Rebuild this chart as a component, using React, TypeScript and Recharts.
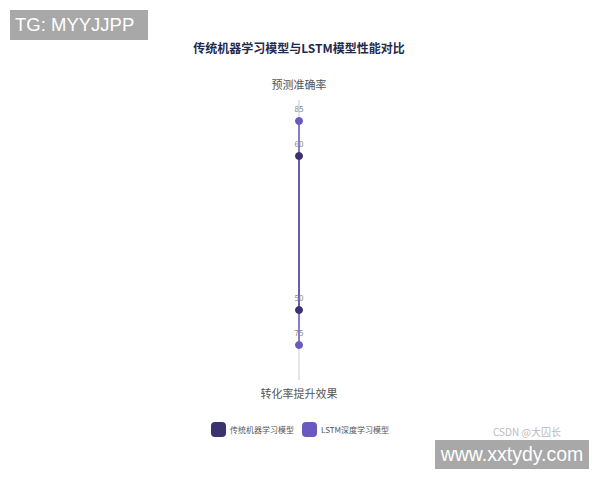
import React from 'react'
import { RadarChart, Radar, PolarGrid, PolarAngleAxis, PolarRadiusAxis, Legend } from 'recharts'

const indicators = ['预测准确率', '转化率提升效果']
const traditionalValues = [60, 50]
const lstmValues = [85, 75]
const seriesNames = ['传统机器学习模型', 'LSTM深度学习模型']
const seriesColors = ['#3b3270', '#6a5ac0']

const data = indicators.map((name, i) => ({
  subject: name,
  traditional: traditionalValues[i],
  lstm: lstmValues[i],
}))

const FONT = '"Noto Sans CJK SC", "Noto Sans", sans-serif'

function makeDot(values: number[], color: string) {
  return (props: any) => {
    const { cx, cy, index } = props
    return (
      <g key={`dot-${index}`}>
        <circle cx={cx} cy={cy} r={3.5} fill={color} stroke={color} />
        <text x={cx} y={cy - 9} textAnchor="middle" fontSize={8} fill="#888" fontFamily={FONT}>
          {values[index]}
        </text>
      </g>
    )
  }
}

function AngleTick(props: any) {
  const { x, y, payload, cy } = props
  const above = y < cy
  return (
    <text
      x={x}
      y={above ? y - 3 : y + 10}
      textAnchor="middle"
      fontSize={11}
      fill="#555"
      fontFamily={FONT}
    >
      {payload.value}
    </text>
  )
}

function LegendContent() {
  return (
    <div style={{ display: 'flex', justifyContent: 'center', gap: 8, fontFamily: FONT, fontSize: 8, color: '#555' }}>
      {seriesNames.map((name, i) => (
        <div key={name} style={{ display: 'flex', alignItems: 'center', gap: 4 }}>
          <span style={{ width: 15, height: 15, borderRadius: 4, background: seriesColors[i], display: 'inline-block' }} />
          <span>{name}</span>
        </div>
      ))}
    </div>
  )
}

export default function App() {
  return (
    <div style={{ position: 'absolute', left: 0, top: 0, width: 600, height: 480, background: '#fff', overflow: 'hidden' }}>
      <div
        style={{
          position: 'absolute', left: 0, top: 39, width: 598, textAlign: 'center',
          fontFamily: FONT, fontSize: 12, fontWeight: 'bold', color: '#1f2a4d',
        }}
      >
        传统机器学习模型与LSTM模型性能对比
      </div>
      <RadarChart width={600} height={480} data={data} cx={299} cy={240} outerRadius={140} startAngle={90} endAngle={-270}>
        <PolarGrid gridType="polygon" stroke="#e2e2e2" polarRadius={[140]} />
        <PolarAngleAxis dataKey="subject" tick={<AngleTick cy={240} />} tickLine={false} axisLine={false} />
        <PolarRadiusAxis domain={[0, 100]} tick={false} axisLine={false} />
        <Radar
          name={seriesNames[0]}
          dataKey="traditional"
          stroke={seriesColors[0]}
          strokeWidth={1}
          fill="none"
          dot={makeDot(traditionalValues, seriesColors[0])}
          isAnimationActive={false}
        />
        <Radar
          name={seriesNames[1]}
          dataKey="lstm"
          stroke={seriesColors[1]}
          strokeWidth={1}
          fill="none"
          dot={makeDot(lstmValues, seriesColors[1])}
          isAnimationActive={false}
        />
        <Legend content={<LegendContent />} wrapperStyle={{ top: 422, left: 0, width: 600 }} />
      </RadarChart>
      <div
        style={{
          position: 'absolute', left: 10, top: 10, width: 138, height: 30, background: '#a8a8a8',
          color: '#fff', fontFamily: '"Liberation Sans", Arial, sans-serif', fontSize: 18.5,
          lineHeight: '30px', paddingLeft: 5, boxSizing: 'border-box',
        }}
      >
        TG: MYYJJPP
      </div>
      <div
        style={{
          position: 'absolute', left: 493, top: 424, fontFamily: '"Noto Sans CJK SC", sans-serif', fontSize: 10, color: '#bbb',
        }}
      >
        CSDN @大囚长
      </div>
      <div
        style={{
          position: 'absolute', left: 435, top: 440, width: 154, height: 29, background: '#a8a8a8',
          color: '#fff', fontFamily: '"Liberation Sans", Arial, sans-serif', fontSize: 19.5,
          lineHeight: '29px', textAlign: 'center',
        }}
      >
        www.xxtydy.com
      </div>
    </div>
  )
}
